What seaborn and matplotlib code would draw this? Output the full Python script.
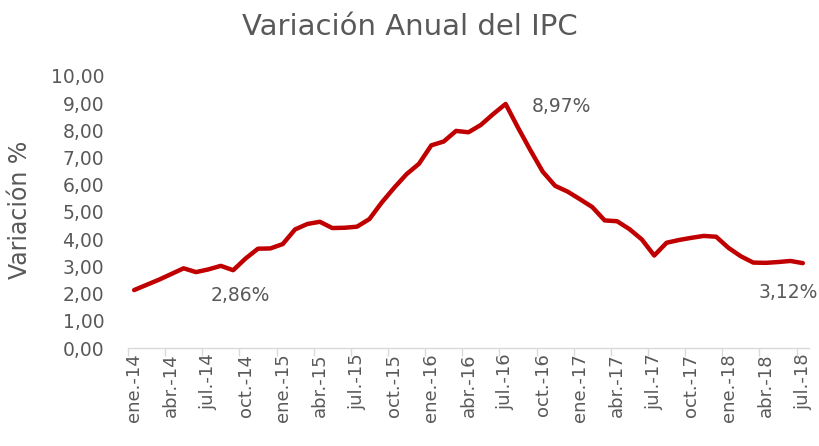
import matplotlib
matplotlib.use("Agg")
import matplotlib.pyplot as plt
import seaborn as sns
import pandas as pd
import numpy as np

months = ["ene.", "feb.", "mar.", "abr.", "may.", "jun.", "jul.", "ago.", "sep.", "oct.", "nov.", "dic."]
periods = [f"{m}-{y}" for y in ["14", "15", "16", "17", "18"] for m in months][:55]
values = [2.13, 2.32, 2.51, 2.72, 2.93, 2.79, 2.89, 3.02, 2.86, 3.29, 3.65, 3.66,
          3.82, 4.36, 4.56, 4.64, 4.41, 4.42, 4.46, 4.74, 5.35, 5.89, 6.39, 6.77,
          7.45, 7.59, 7.98, 7.93, 8.20, 8.60, 8.97, 8.10, 7.27, 6.48, 5.96, 5.75,
          5.47, 5.18, 4.69, 4.66, 4.37, 3.99, 3.40, 3.87, 3.97, 4.05, 4.12, 4.09,
          3.68, 3.37, 3.14, 3.13, 3.16, 3.20, 3.12]
annot_idx = [8, 30, 54]
annot_text = ["2,86%", "8,97%", "3,12%"]
yticks = [0, 1, 2, 3, 4, 5, 6, 7, 8, 9, 10]

sns.set_theme(style="white")
plt.rcParams["font.family"] = ["DejaVu Sans"]
gray = "#595959"

df = pd.DataFrame({"i": np.arange(len(values)), "v": values, "p": periods})

fig = plt.figure(figsize=(8.2, 4.46), dpi=100)
ax = fig.add_axes([0.156, 0.2197, 0.8306, 0.61])
sns.lineplot(data=df, x="i", y="v", ax=ax, color="#C00000", linewidth=3.2)

ax.set_xlim(-0.5, len(values) - 0.5)
ax.set_ylim(0, 10)
ax.set_yticks(yticks)
ax.set_yticklabels([f"{t:.2f}".replace(".", ",") for t in yticks], color=gray, fontsize=13.5)
ax.tick_params(axis="y", length=0, pad=17)

lab_pos = list(range(0, len(values), 3))
ax.set_xticks(lab_pos)
ax.set_xticklabels([periods[i] for i in lab_pos], rotation=90, color=gray, fontsize=13)
ax.set_xticks([p - 0.5 for p in lab_pos], minor=True)
ax.tick_params(axis="x", which="major", length=0, pad=4)
ax.tick_params(axis="x", which="minor", length=6, width=1, color="#D9D9D9", bottom=True)

for s in ["top", "right", "left"]:
    ax.spines[s].set_visible(False)
ax.spines["bottom"].set_color("#D9D9D9")
ax.spines["bottom"].set_linewidth(1)

ax.set_xlabel("")
ax.set_ylabel("")
fig.text(20 / 820, 1 - 210 / 446, "Variación %", rotation=90, ha="center", va="center",
         color=gray, fontsize=17)

offsets = [(7, -25), (56, -3), (-15, -29)]
for k, i in enumerate(annot_idx):
    ax.annotate(annot_text[k], (i, values[i]), xytext=offsets[k], textcoords="offset pixels",
                ha="center", va="center", color=gray, fontsize=13.5)

fig.text(0.5, 1 - 35 / 446, "Variación Anual del IPC", ha="center", va="baseline", color=gray, fontsize=21)

fig.savefig("out.png", dpi=100)
